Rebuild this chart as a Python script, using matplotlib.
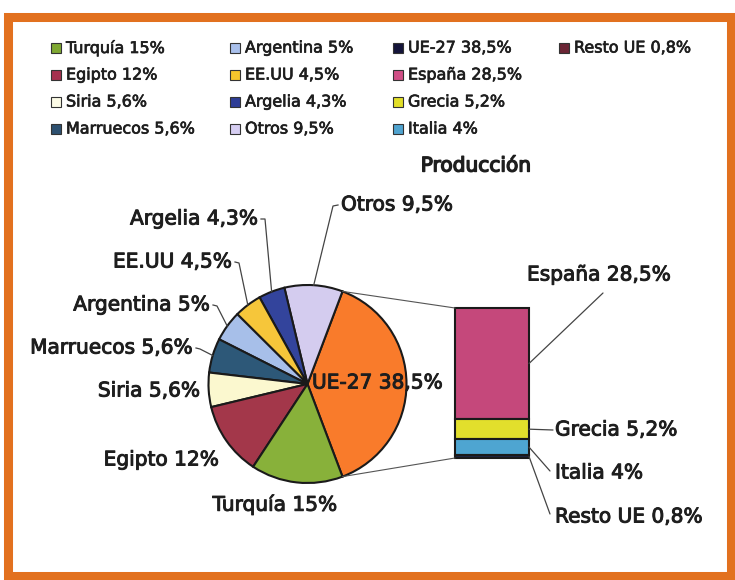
import matplotlib
matplotlib.use("Agg")
import matplotlib.pyplot as plt
import matplotlib.patheffects as pe
from matplotlib.patches import Rectangle, ConnectionPatch
import numpy as np

W, H = 735, 580

# pie data (counterclockwise from the right)
pie_names = ["UE-27", "Otros", "Argelia", "EE.UU", "Argentina", "Marruecos", "Siria", "Egipto", "Turquía"]
pie_values = [38.5, 9.5, 4.3, 4.5, 5, 5.6, 5.6, 12, 15]
pie_colors = ["#f97b2b", "#d4ccef", "#33449c", "#f6c63a", "#a7bfe9", "#2d5878", "#fbf8cf", "#a3374a", "#88b13a"]

# breakdown of UE-27 (top to bottom)
bar_names = ["España", "Grecia", "Italia", "Resto UE"]
bar_values = [28.5, 5.2, 4, 0.8]
bar_colors = ["#c5487b", "#e2df2c", "#4ea5d1", "#1c2444"]

# legend, by column
legend_cols = [
    ["Turquía", "Egipto", "Siria", "Marruecos"],
    ["Argentina", "EE.UU", "Argelia", "Otros"],
    ["UE-27", "España", "Grecia", "Italia"],
    ["Resto UE"],
]
legend_colors = {
    "Turquía": "#7fa832", "Egipto": "#a5304e", "Siria": "#fcfbe6", "Marruecos": "#2d5070",
    "Argentina": "#a9c0ec", "EE.UU": "#f5c52c", "Argelia": "#2e3d96", "Otros": "#d6cef2",
    "UE-27": "#14143a", "España": "#d04f86", "Grecia": "#e2df28", "Italia": "#4fa3cf",
    "Resto UE": "#6b2535",
}

TXT = "#1e1e1e"
EDGE = "#1a1a1a"
THICK = [pe.withStroke(linewidth=0.7, foreground=TXT)]


def fmt(v):
    return f"{v:g}".replace(".", ",") + "%"


def Y(y):
    return H - y


values = dict(zip(pie_names + bar_names, pie_values + bar_values))

fig = plt.figure(figsize=(W / 100, H / 100), dpi=100)
bg = fig.add_axes([0, 0, 1, 1])

# frame
bg.add_patch(Rectangle((8, Y(576)), 723, 559, fill=False, edgecolor="#e2711f", lw=6.5))

# legend
col_x = [51, 230, 393, 559]
row_y = [48, 75, 102, 129]
for cx, names in zip(col_x, legend_cols):
    for ry, name in zip(row_y, names):
        bg.add_patch(Rectangle((cx, Y(ry) - 5), 10, 10, facecolor=legend_colors[name],
                               edgecolor="#333333", lw=0.8))
        bg.text(cx + 15, Y(ry), f"{name} {fmt(values[name])}", fontsize=11.5,
                color=TXT, va="center", ha="left",
                path_effects=[pe.withStroke(linewidth=0.5, foreground=TXT)])

# pie
cx, cy, R = 307.5, Y(384), 99
start = -360 * pie_values[0] / sum(pie_values) / 2
wedges, _ = bg.pie(pie_values, colors=pie_colors, center=(cx, cy), radius=R,
                   startangle=start, counterclock=True,
                   wedgeprops=dict(edgecolor=EDGE, linewidth=1.5))
bg.set_xlim(0, W)
bg.set_ylim(0, H)
bg.set_aspect("auto")
bg.axis("off")


def edge_pt(angle):
    a = np.deg2rad(angle)
    return cx + R * np.cos(a), cy + R * np.sin(a)


LAB = 14.5
# label positions: (x, y, ha, leader stub end or None)
pie_labels = {
    "Argelia": (258, 219, "right", (265, 219)),
    "EE.UU": (232, 262, "right", (239, 263)),
    "Argentina": (210, 305, "right", (217, 306)),
    "Marruecos": (193, 348, "right", (200, 349)),
    "Siria": (200, 391, "right", None),
    "Egipto": (219, 460, "right", None),
    "Turquía": (275, 505, "center", None),
    "Otros": (341, 205, "left", (333, 206)),
}
for w, name in zip(wedges, pie_names):
    if name not in pie_labels:
        continue
    x, y, ha, stub = pie_labels[name]
    bg.text(x, Y(y), f"{name} {fmt(values[name])}", fontsize=LAB, color=TXT,
            ha=ha, va="center", path_effects=THICK)
    if stub is not None:
        px, py = edge_pt((w.theta1 + w.theta2) / 2)
        sx = x + (3 if ha == "right" else -3)
        bg.plot([sx, stub[0], px], [Y(y), Y(stub[1]), py], color="#444444", lw=0.9)

bg.text(312, Y(383), f"UE-27 {fmt(values['UE-27'])}", fontsize=LAB, color=TXT,
        ha="left", va="center", path_effects=THICK)
bg.text(476, Y(166), "Producción", fontsize=LAB, color=TXT, ha="center", va="center",
        path_effects=[pe.withStroke(linewidth=1.0, foreground=TXT)])

# stacked bar for UE-27
bx0, bx1, by0, by1 = 455, 529, 308, 458
bar_ax = fig.add_axes([bx0 / W, Y(by1) / H, (bx1 - bx0) / W, (by1 - by0) / H])
total = sum(bar_values)
bottoms = np.cumsum([0] + bar_values[::-1][:-1])[::-1]
for name, v, b, c in zip(bar_names, bar_values, bottoms, bar_colors):
    bar_ax.bar(0.5, v, width=1, bottom=b, color=c, edgecolor=EDGE, lw=1.5, clip_on=False)
bar_ax.set_xlim(0, 1)
bar_ax.set_ylim(0, total)
bar_ax.axis("off")

# lines from the UE-27 wedge to the bar
ue = wedges[0]
for ang, ytop in ((ue.theta2, total), (ue.theta1, 0)):
    con = ConnectionPatch(xyA=edge_pt(ang), coordsA=bg.transData, xyB=(0, ytop),
                          coordsB=bar_ax.transData, color="#555555", lw=0.8)
    fig.add_artist(con)

# bar labels
bar_labels = {
    "España": (527, 275, (603, 293)),
    "Grecia": (555, 430, (553, 430)),
    "Italia": (555, 473, (550, 471)),
    "Resto UE": (555, 517, (550, 514)),
}
for name, v, b in zip(bar_names, bar_values, bottoms):
    x, y, end = bar_labels[name]
    bg.text(x, Y(y), f"{name} {fmt(v)}", fontsize=LAB, color=TXT, ha="left", va="center",
            path_effects=THICK)
    con = ConnectionPatch(xyA=(1, b + v / 2), coordsA=bar_ax.transData,
                          xyB=(end[0], Y(end[1])), coordsB=bg.transData,
                          color="#444444", lw=0.9)
    fig.add_artist(con)

fig.savefig("out.png", dpi=100, facecolor="white")
